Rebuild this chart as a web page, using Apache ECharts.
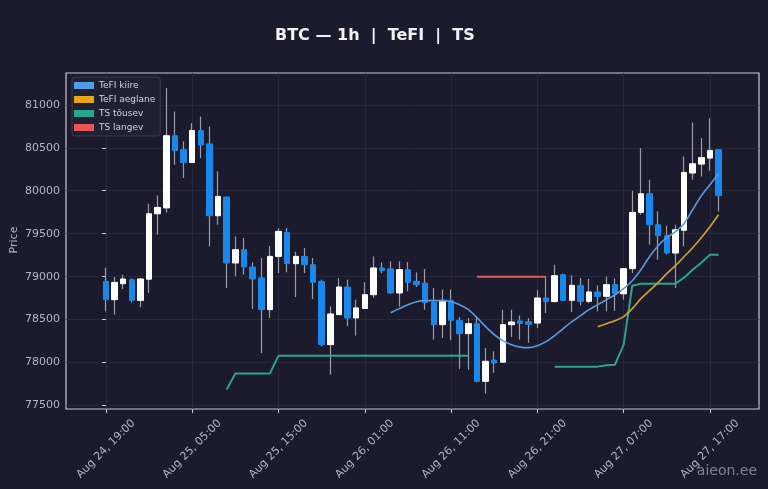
<!DOCTYPE html>
<html>
<head>
<meta charset="utf-8">
<title>BTC 1h TeFI TS</title>
<script src="https://cdn.jsdelivr.net/npm/echarts@6/dist/echarts.min.js"></script>
<style>
  html, body { margin: 0; padding: 0; background: #1b1b2d; }
  #chart { width: 768px; height: 489px; }
</style>
</head>
<body>
<div id="chart"></div>
<script>
// hourly candles, Aug 24 19:00 -> Aug 27 18:00
var tickIdx = [0, 10, 20, 30, 40, 50, 60, 70];
var tickLabels = ['Aug 24, 19:00', 'Aug 25, 05:00', 'Aug 25, 15:00', 'Aug 26, 01:00',
                  'Aug 26, 11:00', 'Aug 26, 21:00', 'Aug 27, 07:00', 'Aug 27, 17:00'];
var priceTicks = [77500, 78000, 78500, 79000, 79500, 80000, 80500, 81000];

var opens = [78945, 78732, 78918, 78965, 78724, 78970, 79732, 79800, 80640, 80477,
             80329, 80701, 80545, 79709, 79927, 79159, 79314, 79112, 78985, 78616,
             79236, 79516, 79151, 79236, 79139, 78945, 78209, 78558, 78880, 78519,
             78630, 78790, 79101, 79090, 78810, 79081, 78945, 78925, 78701, 78441,
             78724, 78491, 78337, 78453, 77782, 78030, 78005, 78441, 78485, 78475,
             78460, 78752, 78710, 79023, 78724, 78899, 78713, 78822, 78771, 78907,
             78800, 79093, 79748, 79965, 79604, 79477, 79275, 79540, 80206, 80310,
             80380, 80477];
var closes = [78732, 78934, 78973, 78724, 78973, 79732, 79806, 80640, 80465, 80329,
              80701, 80531, 79709, 79934, 79159, 79314, 79112, 78973, 78616, 79236,
              79527, 79151, 79236, 79139, 78934, 78209, 78566, 78880, 78519, 78636,
              78790, 79101, 79070, 78810, 79081, 78934, 78905, 78701, 78441, 78724,
              78491, 78337, 78453, 77782, 78015, 77995, 78441, 78473, 78455, 78445,
              78752, 78710, 79011, 78724, 78899, 78713, 78822, 78771, 78907, 78802,
              79093, 79748, 79965, 79604, 79477, 79275, 79546, 80213, 80314, 80387,
              80469, 79942];
var lows = [78596, 78558, 78857, 78700, 78643, 78810, 79488, 79747, 80302, 80148,
            80320, 80380, 79352, 79604, 78868, 79003, 79023, 78624, 78112, 78519,
            79043, 79050, 78764, 79043, 78740, 78189, 77860, 78558, 78422, 78314,
            78625, 78755, 79040, 78800, 78654, 78829, 78880, 78616, 78267, 78287,
            78260, 77926, 77918, 77770, 77639, 77880, 78000, 78298, 78267, 78230,
            78403, 78578, 78700, 78715, 78590, 78666, 78690, 78596, 78596, 78600,
            78732, 79043, 79721, 79372, 79197, 79260, 78868, 79352, 80128, 80166,
            80232, 79759];
var highs = [79104, 78996, 79023, 78980, 78985, 79849, 79945, 81194, 80922, 80573,
             80787, 80864, 80748, 80224, 79930, 79468, 79450, 79166, 79217, 79360,
             79566, 79566, 79290, 79333, 79217, 78965, 78654, 78985, 78965, 78732,
             78934, 79236, 79166, 79178, 79178, 79170, 79050, 79089, 78868, 78850,
             78850, 78530, 78519, 78530, 78170, 78131, 78616, 78616, 78547, 78519,
             78841, 79003, 79139, 79035, 79015, 78985, 78973, 78899, 79003, 78980,
             79100, 80000, 80496, 80128, 79760, 79593, 79604, 80399, 80794, 80613,
             80845, 80480];

var tefiFast = [null, null, null, null, null, null, null, null, null, null,
                null, null, null, null, null, null, null, null, null, null,
                null, null, null, null, null, null, null, null, null, null,
                null, null, null, 78581, 78628, 78674, 78709, 78721, 78721, 78721,
                78709, 78674, 78616, 78523, 78419, 78326, 78256, 78209, 78180, 78174,
                78197, 78244, 78314, 78395, 78476, 78546, 78616, 78674, 78732, 78790,
                78860, 78953, 79081, 79232, 79360, 79453, 79523, 79616, 79779, 79942,
                80070, 80200];
var tefiSlow = [null, null, null, null, null, null, null, null, null, null,
                null, null, null, null, null, null, null, null, null, null,
                null, null, null, null, null, null, null, null, null, null,
                null, null, null, null, null, null, null, null, null, null,
                null, null, null, null, null, null, null, null, null, null,
                null, null, null, null, null, null, null, 78418, 78453, 78488,
                78535, 78628, 78744, 78837, 78930, 79035, 79128, 79232, 79337, 79453,
                79581, 79721];
var tsUp = [null, null, null, null, null, null, null, null, null, null,
            null, null, null, null, 77686, 77872, 77872, 77872, 77872, 77872,
            78081, 78081, 78081, 78081, 78081, 78081, 78081, 78081, 78081, 78081,
            78081, 78081, 78081, 78081, 78081, 78081, 78081, 78081, 78081, 78081,
            78081, 78081, 78081, null, null, null, null, null, null, null,
            null, null, 77953, 77953, 77953, 77953, 77953, 77953, 77968, 77976,
            78209, 78895, 78918, 78918, 78918, 78918, 78918, 78988, 79081, 79163,
            79256, 79256];
var tsDown = [null, null, null, null, null, null, null, null, null, null,
              null, null, null, null, null, null, null, null, null, null,
              null, null, null, null, null, null, null, null, null, null,
              null, null, null, null, null, null, null, null, null, null,
              null, null, null, 79000, 79000, 79000, 79000, 79000, 79000, 79000,
              79000, 79000, null, null, null, null, null, null, null, null,
              null, null, null, null, null, null, null, null, null, null,
              null, null];

var wickData = [], bodyData = [];
for (var i = 0; i < opens.length; i++) {
    wickData.push([i, opens[i], closes[i], lows[i], highs[i]]);
    bodyData.push([i, opens[i], closes[i], Math.min(opens[i], closes[i]), Math.max(opens[i], closes[i])]);
}
function pairs(arr) {
    return arr.map(function (v, i) { return [i, v]; });
}

var textCol = '#b4b4c2';
var frameCol = '#c9c9d6';

var myChart = echarts.init(document.getElementById('chart'));
myChart.setOption({
    backgroundColor: '#1b1b2d',
    animation: false,
    textStyle: { fontFamily: 'DejaVu Sans' },
    title: {
        text: 'BTC — 1h  |  TeFI  |  TS',
        left: 270,
        top: 23,
        textStyle: { color: '#f2f2f6', fontSize: 16, fontWeight: 'bold', fontFamily: 'DejaVu Sans' }
    },
    legend: {
        data: ['TeFI kiire', 'TeFI aeglane', 'TS tõusev', 'TS langev'],
        orient: 'vertical',
        left: 72,
        top: 77,
        icon: 'rect',
        itemWidth: 20,
        itemHeight: 7,
        itemGap: 5,
        padding: [4, 5, 4, 2],
        backgroundColor: '#1f2133',
        borderColor: '#3a3c52',
        borderWidth: 1,
        borderRadius: 3,
        textStyle: { color: '#d4d4dc', fontSize: 9, fontFamily: 'DejaVu Sans' }
    },
    grid: {
        left: 66,
        right: 9,
        top: 73,
        bottom: 80,
        outerBoundsMode: 'none',
        containLabel: false,
        show: true,
        borderColor: frameCol,
        borderWidth: 1.2,
        backgroundColor: 'transparent'
    },
    xAxis: {
        type: 'value',
        min: -4.63,
        max: 75.69,
        axisLine: { show: false },
        axisTick: {
            show: true,
            customValues: tickIdx,
            length: 4,
            lineStyle: { color: frameCol }
        },
        axisLabel: {
            customValues: tickIdx,
            rotate: 45,
            align: 'center',
            verticalAlign: 'middle',
            color: textCol,
            fontSize: 11,
            margin: 40,
            formatter: function (v) { return tickLabels[tickIdx.indexOf(Math.round(v))] || ''; }
        },
        splitLine: { show: true, lineStyle: { color: '#2a2c42', width: 0.8 } }
    },
    yAxis: {
        type: 'value',
        min: 77460,
        max: 81370,
        axisLine: { show: false },
        axisTick: {
            show: true,
            customValues: priceTicks,
            length: 4,
            lineStyle: { color: frameCol }
        },
        axisLabel: {
            customValues: priceTicks,
            color: textCol,
            fontSize: 11,
            margin: 6,
            formatter: function (v) { return String(v); }
        },
        splitLine: { show: true, lineStyle: { color: '#2a2c42', width: 0.8 } }
    },
    series: [{
        name: 'wicks',
        type: 'candlestick',
        encode: { x: 0, y: [1, 2, 3, 4] },
        barWidth: 1,
        itemStyle: {
            color: '#9c9cab', color0: '#9c9cab',
            borderColor: '#9c9cab', borderColor0: '#9c9cab', borderWidth: 1.2
        },
        data: wickData
    }, {
        name: 'bodies',
        type: 'candlestick',
        encode: { x: 0, y: [1, 2, 3, 4] },
        barWidth: 6,
        itemStyle: {
            color: '#ffffff', color0: '#1a87ea',
            borderColor: '#ffffff', borderColor0: '#1a87ea', borderWidth: 1
        },
        data: bodyData
    }, {
        name: 'TeFI kiire',
        type: 'line',
        data: pairs(tefiFast),
        showSymbol: false,
        smooth: 0.3,
        color: '#4d9fe8',
        lineStyle: { width: 1.6, color: '#5a9ae0' },
        z: 5
    }, {
        name: 'TeFI aeglane',
        type: 'line',
        data: pairs(tefiSlow),
        showSymbol: false,
        smooth: 0.3,
        color: '#eaa613',
        lineStyle: { width: 1.6, color: '#d9a12c' },
        z: 5
    }, {
        name: 'TS tõusev',
        type: 'line',
        data: pairs(tsUp),
        showSymbol: false,
        color: '#26a68c',
        lineStyle: { width: 2, color: '#2ca38a' },
        z: 4
    }, {
        name: 'TS langev',
        type: 'line',
        data: pairs(tsDown),
        showSymbol: false,
        color: '#ea5656',
        lineStyle: { width: 2, color: '#e05a5a' },
        z: 4
    }],
    graphic: [{
        type: 'text',
        x: 14,
        y: 240,
        rotation: Math.PI / 2,
        style: {
            text: 'Price',
            fill: textCol,
            fontSize: 11,
            fontFamily: 'DejaVu Sans',
            align: 'center',
            verticalAlign: 'middle'
        }
    }, {
        type: 'text',
        right: 11,
        bottom: 11,
        style: {
            text: 'aieon.ee',
            fill: 'rgba(165,165,180,0.75)',
            fontSize: 14,
            fontFamily: 'DejaVu Sans'
        }
    }]
});
</script>
</body>
</html>
